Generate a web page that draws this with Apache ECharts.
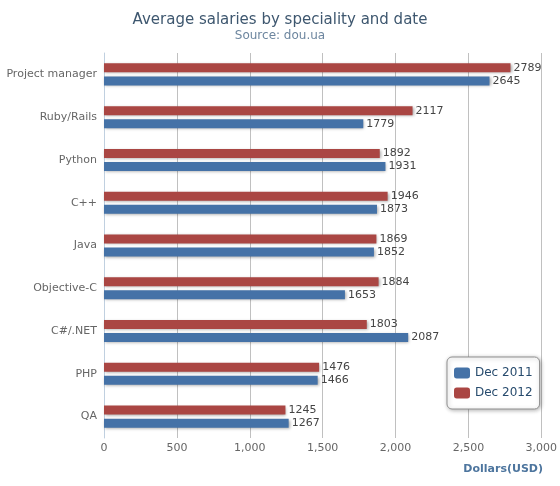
<!DOCTYPE html>
<html><head><meta charset="utf-8">
<script src="https://cdn.jsdelivr.net/npm/echarts@6/dist/echarts.min.js"></script>
<style>html,body{margin:0;padding:0;background:#fff}#c{width:560px;height:486px}</style>
</head><body><div id="c"></div>
<script>
const categories = ['Project manager','Ruby/Rails','Python','C++','Java','Objective-C','C#/.NET','PHP','QA'];
const dec2011 = [2645,1779,1931,1873,1852,1653,2087,1466,1267];
const dec2012 = [2789,2117,1892,1946,1869,1884,1803,1476,1245];
const xTicks = {min:0, max:3000, interval:500};

const font = 'DejaVu Sans, Verdana, sans-serif';
const chart = echarts.init(document.getElementById('c'));
const barStyle = c => ({color:c, shadowColor:'rgba(0,0,0,0.35)', shadowBlur:3, shadowOffsetX:1, shadowOffsetY:1});
const lbl = {show:true, position:'right', distance:3, color:'#444', fontSize:11, fontFamily:font};
chart.setOption({
  animation:false,
  title:[
    {text:'Average salaries by speciality and date', subtext:'Source: dou.ua', left:'center', top:8,
     itemGap:2,
     textStyle:{fontFamily:font, fontSize:15, fontWeight:'normal', color:'#3E576F'},
     subtextStyle:{fontFamily:font, fontSize:12, color:'#6D869F'}},
    {text:'Dollars(USD)', right:12, top:459, textStyle:{fontFamily:font, fontSize:11, fontWeight:'bold', color:'#4d759e'}}
  ],
  legend:{orient:'vertical', left:447, top:357, padding:[10,7,10,7], itemGap:8,
    backgroundColor:'#fff', borderColor:'#909090', borderWidth:1, borderRadius:5,
    shadowColor:'rgba(0,0,0,0.3)', shadowBlur:4, shadowOffsetX:1, shadowOffsetY:1,
    icon:'roundRect', itemWidth:16, itemHeight:11,
    textStyle:{fontFamily:font, fontSize:12, color:'#274b6d'},
    data:['Dec 2011','Dec 2012']},
  grid:{left:104, right:12, top:53, bottom:48, containLabel:false},
  xAxis:{type:'value', min:xTicks.min, max:xTicks.max, interval:xTicks.interval,
    axisLine:{show:false}, axisTick:{show:false},
    splitLine:{lineStyle:{color:'#C0C0C0'}},
    axisLabel:{fontFamily:font, fontSize:11, color:'#666', margin:5,
      formatter:v=>v.toLocaleString('en-US')}},
  yAxis:{type:'category', data:categories, inverse:true,
    axisLine:{lineStyle:{color:'#C0D0E0'}}, axisTick:{length:5, lineStyle:{color:'#C0D0E0'}},
    axisLabel:{fontFamily:font, fontSize:11, color:'#666', margin:7}},
  series:[
    {name:'Dec 2012', type:'bar', data:dec2012, barWidth:9, barGap:'45%', itemStyle:barStyle('#AA4643'), label:lbl},
    {name:'Dec 2011', type:'bar', data:dec2011, barWidth:9, barGap:'45%', itemStyle:barStyle('#4572A7'), label:lbl}
  ]
});
</script></body></html>
